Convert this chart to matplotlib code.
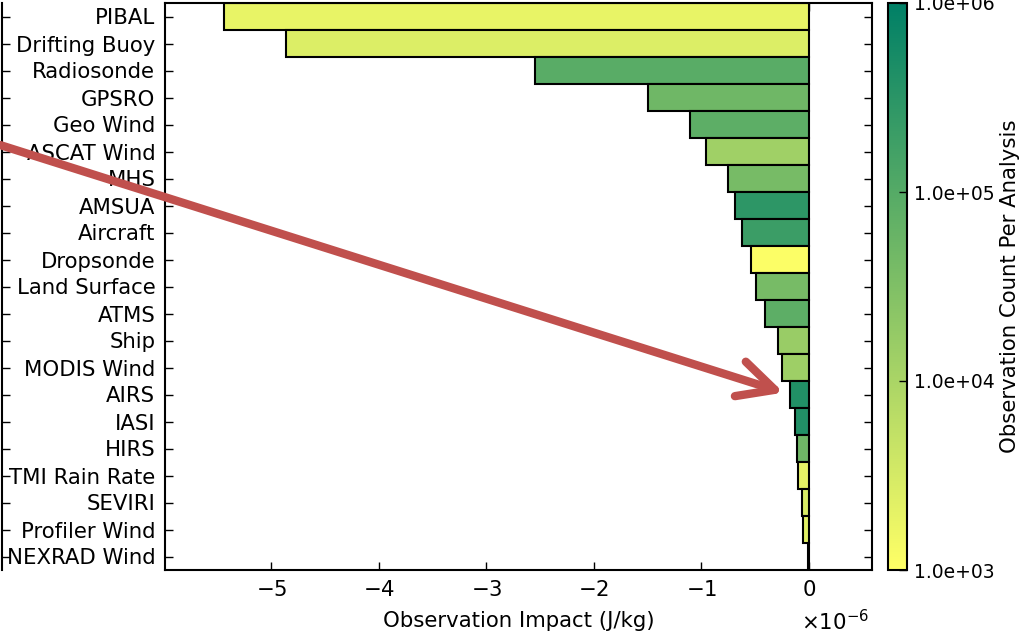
"""
Observation impact per platform, bars coloured by observation count.
"""
import matplotlib
matplotlib.use("Agg")
import matplotlib.pyplot as plt
import numpy as np
from matplotlib.colors import LogNorm
from matplotlib.cm import ScalarMappable
from matplotlib.ticker import ScalarFormatter

# platforms, listed top to bottom
platforms = [
    "PIBAL", "Drifting Buoy", "Radiosonde", "GPSRO", "Geo Wind",
    "ASCAT Wind", "MHS", "AMSUA", "Aircraft", "Dropsonde",
    "Land Surface", "ATMS", "Ship", "MODIS Wind", "AIRS", "IASI",
    "HIRS", "TMI Rain Rate", "SEVIRI", "Profiler Wind", "NEXRAD Wind",
]
# total impact, J/kg
impact = np.array([
    -5.44, -4.86, -2.55, -1.50, -1.11,
    -0.96, -0.75, -0.69, -0.62, -0.54,
    -0.49, -0.41, -0.29, -0.25, -0.18, -0.13,
    -0.11, -0.10, -0.068, -0.053, -0.012,
]) * 1e-6
# observations per analysis
counts = np.array([
    1.9e3, 2.6e3, 9.0e4, 5.0e4, 8.0e4,
    1.3e4, 4.0e4, 2.9e5, 2.0e5, 1.1e3,
    4.0e4, 8.0e4, 1.6e4, 1.4e4, 4.0e5, 4.0e5,
    5.0e4, 2.0e3, 2.8e3, 2.3e3, 1.5e3,
])
cbar_ticks = [1e3, 1e4, 1e5, 1e6]
highlight = "AIRS"

FS = 15.3
W, H = 1019, 634
plt.rcParams["font.family"] = ["DejaVu Sans"]
plt.rcParams["font.size"] = FS

fig = plt.figure(figsize=(W / 100, H / 100), dpi=100)
left, right = 165 / W, 872 / W
bottom, top = 1 - 570 / H, 1 - 3 / H
ax = fig.add_axes([left, bottom, right - left, top - bottom])

norm = LogNorm(vmin=1e3, vmax=1e6)
cmap = plt.get_cmap("summer_r")
ypos = np.arange(len(platforms))

ax.barh(ypos, impact, height=1.0, color=cmap(norm(counts)),
        edgecolor="black", linewidth=1.5, zorder=2)
ax.set_ylim(len(platforms) - 0.5, -0.5)
ax.set_xlim(-5.99e-6, 0.586e-6)
ax.set_yticks(ypos)
ax.set_yticklabels(platforms)
ax.set_xticks(np.arange(-5, 1) * 1e-6)
fmt = ScalarFormatter(useMathText=True)
fmt.set_powerlimits((0, 0))
ax.xaxis.set_major_formatter(fmt)
ax.set_xlabel("Observation Impact (J/kg)", fontsize=FS, labelpad=8)
ax.tick_params(direction="in", length=6, width=1, top=True, right=True,
               labelsize=FS)
ax.tick_params(axis="y", pad=7)
ax.tick_params(axis="x", pad=7)
ax.xaxis.get_offset_text().set_visible(False)
fig.text(right - 3 / W, 0, r"$\times10^{-6}$", ha="right", va="bottom",
         fontsize=FS)
for s in ax.spines.values():
    s.set_linewidth(1.5)

# colour bar
cax = fig.add_axes([888 / W, bottom, 19 / W, top - bottom])
sm = ScalarMappable(norm=norm, cmap=cmap)
cb = fig.colorbar(sm, cax=cax, ticks=cbar_ticks, format="%.1e")
cb.minorticks_off()
cb.outline.set_linewidth(1.5)
cax.tick_params(direction="in", length=6, width=1, labelsize=13.5, pad=5)
cb.set_label("Observation Count Per Analysis", fontsize=FS, labelpad=4)

# edge of the neighbouring panel, cut off at the left
edge = fig.add_axes([2 / W, bottom, 0.05, top - bottom], facecolor="none",
                    zorder=-1)
edge.set_ylim(len(platforms) - 0.5, -0.5)
edge.set_yticks(ypos)
edge.set_yticklabels([])
edge.set_xticks([])
for k in ["top", "bottom", "right"]:
    edge.spines[k].set_visible(False)
edge.spines["left"].set_linewidth(1.5)
edge.tick_params(direction="in", length=6, width=1)

# arrow pointing at the highlighted platform
i = platforms.index(highlight)
ax.annotate("", xy=(impact[i], i), xycoords="data",
            xytext=(0.0, 1 - 145 / H), textcoords="figure fraction",
            arrowprops=dict(arrowstyle="->,head_length=1.3,head_width=0.65",
                            color="#c0504d", lw=6, mutation_scale=20,
                            shrinkA=0, shrinkB=4.5),
            annotation_clip=False, zorder=5)

fig.savefig("out.png", dpi=100)
